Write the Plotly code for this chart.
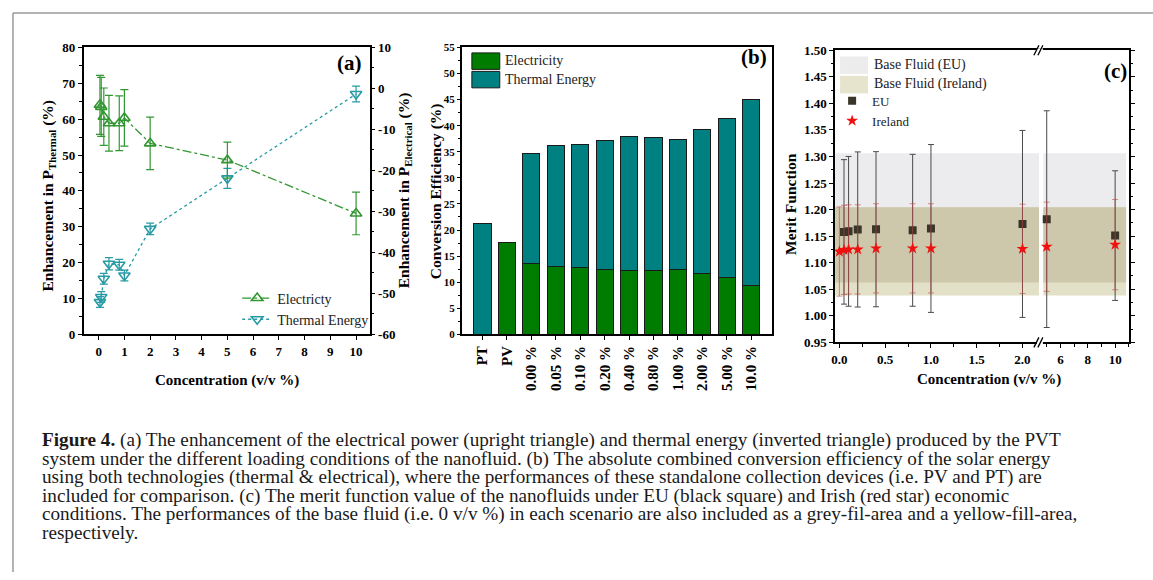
import plotly.graph_objects as go

W, H = 1153, 580
# empirical mapping between page pixels and photographed pixels (vertical)
Y_OFF, Y_SCALE = 6.0, 0.976


def fx(p):
    return p / W


def fy(p):
    page = (p - Y_OFF) / Y_SCALE
    return 1 - page / H


SERIF = "Liberation Serif"
GREEN = "rgb(50,150,50)"
TEAL = "rgb(40,155,165)"
BAR_GREEN = "rgb(0,125,0)"
BAR_TEAL = "rgb(0,128,128)"

# ---------------- panel (a) data ----------------
conc_a = [0.05, 0.1, 0.2, 0.4, 0.8, 1.0, 2.0, 5.0, 10.0]
thermal_enh = [9.0, 10.4, 15.5, 19.7, 19.4, 16.4, 29.4, 43.5, 67.0]
thermal_err = [1.5, 1.5, 1.5, 1.7, 1.5, 1.5, 1.6, 2.8, 2.2]
elec_enh = [-4.0, -4.5, -6.9, -8.5, -8.5, -7.2, -13.4, -17.5, -30.5]
elec_err = [7.2, 7.2, 7.0, 6.8, 6.7, 6.9, 6.4, 4.4, 5.2]
right_ticks_a = [-60, -50, -40, -30, -20, -10, 0, 10]

# ---------------- panel (b) data ----------------
cats_b = ["PT", "PV", "0.00 %", "0.05 %", "0.10 %", "0.20 %", "0.40 %",
          "0.80 %", "1.00 %", "2.00 %", "5.00 %", "10.0 %"]
elec_eff = [None, 17.7, 13.5, 12.95, 12.8, 12.5, 12.25, 12.25, 12.5, 11.6, 10.85, 9.4]
thermal_eff = [21.3, None, 21.2, 23.25, 23.6, 24.6, 25.65, 25.55, 24.9, 27.65, 30.55, 35.6]

# ---------------- panel (c) data ----------------
conc_eu = [0.05, 0.1, 0.2, 0.4, 0.8, 1.0, 2.0, 5.0, 10.0]
eu_mf = [1.158, 1.159, 1.1625, 1.163, 1.161, 1.1644, 1.173, 1.182, 1.151]
eu_err = [0.136, 0.141, 0.146, 0.146, 0.143, 0.158, 0.176, 0.204, 0.122]
conc_ie = [0.0, 0.05, 0.1, 0.2, 0.4, 0.8, 1.0, 2.0, 5.0, 10.0]
ie_mf = [1.121, 1.124, 1.125, 1.125, 1.127, 1.127, 1.127, 1.126, 1.130, 1.134]
ie_err = [0.084, 0.084, 0.084, 0.084, 0.084, 0.084, 0.084, 0.084, 0.084, 0.085]
base_eu = [1.0625, 1.306]   # grey band (low, high)
base_ie = [1.038, 1.2044]   # tan band (low, high)
left_range = [-0.047, 2.19]
right_range = [4.5, 11.02]
band_left = [-0.047, 2.18]
band_right = [4.75, 10.8]

fig = go.Figure()

# ---- (a) traces
fig.add_trace(go.Scatter(
    x=conc_a, y=elec_enh, xaxis="x", yaxis="y2", name="Electricty",
    mode="lines+markers",
    line=dict(color=GREEN, width=1.3, dash="dashdot"),
    marker=dict(symbol="triangle-up-open", size=10, color=GREEN, line=dict(width=1.6, color=GREEN)),
    error_y=dict(type="data", array=elec_err, color=GREEN, thickness=1.2, width=4),
    legend="legend",
))
fig.add_trace(go.Scatter(
    x=conc_a, y=thermal_enh, xaxis="x", yaxis="y", name="Thermal Energy",
    mode="lines+markers",
    line=dict(color=TEAL, width=1.3, dash="dot"),
    marker=dict(symbol="triangle-down-open", size=10, color=TEAL, line=dict(width=1.6, color=TEAL)),
    error_y=dict(type="data", array=thermal_err, color=TEAL, thickness=1.2, width=4),
    legend="legend",
))

# ---- (b) traces
fig.add_trace(go.Bar(
    x=cats_b, y=elec_eff, xaxis="x2", yaxis="y3", name="Electricity",
    marker=dict(color=BAR_GREEN, line=dict(color="#1a1a1a", width=1)),
    width=0.7, showlegend=False,
))
fig.add_trace(go.Bar(
    x=cats_b, y=thermal_eff, xaxis="x2", yaxis="y3", name="Thermal Energy",
    marker=dict(color=BAR_TEAL, line=dict(color="#1a1a1a", width=1)),
    width=0.7, showlegend=False,
))


# ---- (c) traces (split across broken axis)
def split(xs, ys, es):
    lo = [(x, y, e) for x, y, e in zip(xs, ys, es) if x <= left_range[1]]
    hi = [(x, y, e) for x, y, e in zip(xs, ys, es) if x >= right_range[0]]
    return lo, hi


eu_lo, eu_hi = split(conc_eu, eu_mf, eu_err)
ie_lo, ie_hi = split(conc_ie, ie_mf, ie_err)

for i, (part, xa) in enumerate([(eu_lo, "x3"), (eu_hi, "x4")]):
    fig.add_trace(go.Scatter(
        x=[p[0] for p in part], y=[p[1] for p in part], xaxis=xa, yaxis="y4",
        mode="markers", name="EU", legendgroup="eu", showlegend=(i == 0),
        marker=dict(symbol="square", size=8, color="#3a3528"),
        error_y=dict(type="data", array=[p[2] for p in part], color="#4a4a4a", thickness=1, width=3),
        legend="legend2",
    ))
for i, (part, xa) in enumerate([(ie_lo, "x3"), (ie_hi, "x4")]):
    fig.add_trace(go.Scatter(
        x=[p[0] for p in part], y=[p[1] for p in part], xaxis=xa, yaxis="y4",
        mode="markers", name="Ireland", legendgroup="ie", showlegend=(i == 0),
        marker=dict(symbol="star", size=9, color="#f01010"),
        error_y=dict(type="data", array=[p[2] for p in part], color="rgba(190,70,70,0.75)", thickness=0.8, width=3),
        legend="legend2",
    ))
fig.add_trace(go.Scatter(x=[None], y=[None], xaxis="x4", yaxis="y5", showlegend=False, hoverinfo="skip"))

# ---- bands in (c)
shapes = []
ov_lo, ov_hi = max(base_eu[0], base_ie[0]), min(base_eu[1], base_ie[1])
for xr, (x0, x1) in [("x3", band_left), ("x4", band_right)]:
    shapes.append(dict(type="rect", xref=xr, yref="y4", x0=x0, x1=x1, y0=base_eu[0], y1=base_eu[1],
                       fillcolor="#ececee", line=dict(width=0), layer="below"))
    shapes.append(dict(type="rect", xref=xr, yref="y4", x0=x0, x1=x1, y0=base_ie[0], y1=base_ie[1],
                       fillcolor="#e3e0c8", line=dict(width=0), layer="below"))
    shapes.append(dict(type="rect", xref=xr, yref="y4", x0=x0, x1=x1, y0=ov_lo, y1=ov_hi,
                       fillcolor="#cdc8ac", line=dict(width=0), layer="below"))

# break marks
for yb in [49.3, 342.0]:
    shapes.append(dict(type="rect", xref="paper", yref="paper", x0=fx(1036.5), x1=fx(1042.5),
                       y0=fy(yb + 2), y1=fy(yb - 2), fillcolor="white", line=dict(width=0)))
    for dx in [0, 4]:
        shapes.append(dict(type="line", xref="paper", yref="paper",
                           x0=fx(1033.5 + dx), y0=fy(yb + 5), x1=fx(1038.5 + dx), y1=fy(yb - 5),
                           line=dict(color="black", width=1.3)))

# legend rects for (b)
shapes.append(dict(type="rect", xref="paper", yref="paper", x0=fx(469.5), x1=fx(497.5), y0=fy(68.5), y1=fy(52),
                   fillcolor=BAR_GREEN, line=dict(color="#1a1a1a", width=1)))
shapes.append(dict(type="rect", xref="paper", yref="paper", x0=fx(469.5), x1=fx(497.5), y0=fy(87), y1=fy(70.5),
                   fillcolor=BAR_TEAL, line=dict(color="#1a1a1a", width=1)))
# legend rects for (c)
shapes.append(dict(type="rect", xref="paper", yref="paper", x0=fx(839), x1=fx(867), y0=fy(73), y1=fy(55.5),
                   fillcolor="#ececec", line=dict(width=0)))
shapes.append(dict(type="rect", xref="paper", yref="paper", x0=fx(839), x1=fx(867), y0=fy(92.5), y1=fy(75),
                   fillcolor="#e6e4cc", line=dict(width=0)))
# outer frame (left and top edges)
shapes.append(dict(type="line", xref="paper", yref="paper", x0=fx(9), x1=fx(9), y0=0, y1=fy(12),
                   line=dict(color="#9a9a9a", width=1.5)))
shapes.append(dict(type="line", xref="paper", yref="paper", x0=fx(9), x1=1, y0=fy(12), y1=fy(12),
                   line=dict(color="#9a9a9a", width=1.5)))


def tf(size):
    return dict(family=SERIF, size=size, color="black", weight="bold")


def ax(**kw):
    base = dict(showline=True, linecolor="black", linewidth=1.5, ticks="outside", ticklen=4,
                tickwidth=1.2, tickcolor="black", showgrid=False, zeroline=False, tickfont=tf(13))
    base.update(kw)
    return base


ya_dom = [fy(334), fy(46.5)]
yc_dom = [fy(342), fy(49.3)]

layout = dict(
    width=W, height=H, margin=dict(l=0, r=0, t=0, b=0),
    paper_bgcolor="white", plot_bgcolor="white", barmode="stack", showlegend=True,
    xaxis=ax(domain=[fx(80), fx(367)], range=[-0.58, 10.53], anchor="y", tickvals=list(range(0, 11)),
             mirror=True),
    yaxis=ax(domain=ya_dom, range=[0, 80], anchor="x", dtick=10,
             minor=dict(ticks="outside", ticklen=2.5, dtick=5, tickcolor="black")),
    yaxis2=ax(domain=ya_dom, range=[-60, 10], anchor="x", overlaying="y", side="right",
              tickvals=right_ticks_a, ticktext=[str(v) for v in right_ticks_a],
              minor=dict(ticks="outside", ticklen=2.5, dtick=5, tickcolor="black")),
    xaxis2=ax(domain=[fx(459.3), fx(770.7)], range=[-0.85, 11.85], anchor="y3", mirror=True,
              tickangle=-90, type="category", tickfont=tf(15)),
    yaxis3=ax(domain=ya_dom, range=[0, 55], anchor="x2", dtick=5, mirror=True, tickfont=tf(11),
              ticklen=3,
              minor=dict(ticks="outside", ticklen=2, dtick=2.5, tickcolor="black")),
    xaxis3=ax(domain=[fx(834), fx(1039.5)], range=left_range, anchor="y4", mirror=True,
              tickvals=[0, 0.5, 1.0, 1.5, 2.0], tickformat=".1f",
              minor=dict(ticks="outside", ticklen=2.5, dtick=0.25, tick0=0, tickcolor="black")),
    xaxis4=ax(domain=[fx(1039.5), fx(1129)], range=right_range, anchor="y4", mirror=True,
              tickvals=[6, 8, 10],
              minor=dict(ticks="outside", ticklen=2.5, dtick=1, tick0=0, tickcolor="black")),
    yaxis4=ax(domain=yc_dom, range=[0.95, 1.5], anchor="x3", dtick=0.05, tickformat=".2f",
              minor=dict(ticks="outside", ticklen=2.5, dtick=0.025, tick0=0.95, tickcolor="black")),
    yaxis5=ax(domain=yc_dom, range=[0.95, 1.5], anchor="x4", overlaying="y4", side="right",
              dtick=0.05, showticklabels=False,
              minor=dict(ticks="outside", ticklen=2.5, dtick=0.025, tick0=0.95, tickcolor="black")),
    legend=dict(x=fx(234), y=fy(282), xanchor="left", yanchor="top", bgcolor="rgba(0,0,0,0)",
                traceorder="normal",
                font=dict(family=SERIF, size=14, color="#222"), itemwidth=30, tracegroupgap=0),
    legend2=dict(x=fx(831), y=fy(85), xanchor="left", yanchor="top", bgcolor="rgba(0,0,0,0)",
                 traceorder="normal",
                 font=dict(family=SERIF, size=13, color="#222"), itemwidth=30, tracegroupgap=0),
    shapes=shapes,
)
fig.update_layout(**layout)

ann = []


def text(x, y, s, size=14, bold=False, angle=0, xanchor="center", color="black"):
    ann.append(dict(x=fx(x), y=fy(y), xref="paper", yref="paper", text=s, showarrow=False,
                    textangle=angle, xanchor=xanchor, yanchor="middle",
                    font=dict(family=SERIF, size=size, color=color,
                              weight="bold" if bold else "normal")))


# panel labels
text(347, 62, "(a)", 21, True)
text(753, 56, "(b)", 21, True)
text(1115, 70, "(c)", 21, True)
# axis titles
text(224, 380, "Concentration (v/v %)", 15, True)
text(45, 195, "Enhancement in P<sub>Thermal</sub> (%)", 15.5, True, -90)
text(402, 190, "Enhancement in P<sub>Electrical</sub> (%)", 15.5, True, -90)
text(433, 190, "Conversion Efficiency (%)", 15.5, True, -90)
text(789, 203, "Merit Function", 15.5, True, -90)
text(988, 379, "Concentration (v/v %)", 15, True)
# custom legend texts
text(501, 60, "Electricity", 14, False, xanchor="left", color="#222")
text(501, 78.5, "Thermal Energy", 14, False, xanchor="left", color="#222")
text(871, 64, "Base Fluid (EU)", 14, False, xanchor="left", color="#222")
text(871, 83, "Base Fluid (Ireland)", 14, False, xanchor="left", color="#222")

# caption
caption = [
    "<b>Figure 4.</b> (a) The enhancement of the electrical power (upright triangle) and thermal energy (inverted triangle) produced by the PVT",
    "system under the different loading conditions of the nanofluid. (b) The absolute combined conversion efficiency of the solar energy",
    "using both technologies (thermal &amp; electrical), where the performances of these standalone collection devices (i.e. PV and PT) are",
    "included for comparison. (c) The merit function value of the nanofluids under EU (black square) and Irish (red star) economic",
    "conditions. The performances of the base fluid (i.e. 0 v/v %) in each scenario are also included as a grey-fil-area and a yellow-fill-area,",
    "respectively.",
]
for i, line in enumerate(caption):
    text(36, 440 + i * 18.6, line, 19.2, False, xanchor="left", color="#1a1a1a")

fig.update_layout(annotations=ann)
fig.write_html(
    "out.html",
    config={"displayModeBar": False},
    post_script=(
        "document.documentElement.style.overflow='hidden';"
        "document.body.style.margin='0px';document.body.style.overflow='hidden';"
        "var gd=document.getElementById('{plot_id}');"
        "gd.style.position='fixed';gd.style.left='0px';gd.style.top='0px';"
    ),
)
